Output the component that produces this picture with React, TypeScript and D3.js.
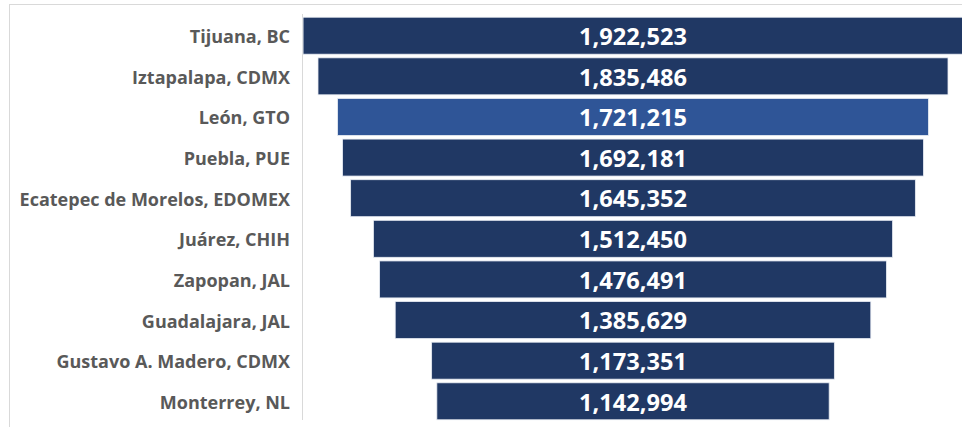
import { useEffect, useRef } from "react";
import { scaleBand, scaleLinear, select, format } from "d3";

const cities = [
  "Tijuana, BC",
  "Iztapalapa, CDMX",
  "León, GTO",
  "Puebla, PUE",
  "Ecatepec de Morelos, EDOMEX",
  "Juárez, CHIH",
  "Zapopan, JAL",
  "Guadalajara, JAL",
  "Gustavo A. Madero, CDMX",
  "Monterrey, NL",
];
const population = [1922523, 1835486, 1721215, 1692181, 1645352, 1512450, 1476491, 1385629, 1173351, 1142994];
const highlight = "León, GTO";

export default function App() {
  const ref = useRef<SVGSVGElement>(null);

  useEffect(() => {
    if (!ref.current) return;
    const svg = select(ref.current);
    svg.selectAll("*").remove();
    const W = 962,
      H = 427;
    const cx = 633;

    // frame + axis line
    svg
      .append("rect")
      .attr("x", 9.5)
      .attr("y", 4.5)
      .attr("width", W)
      .attr("height", H)
      .attr("fill", "#fff")
      .attr("stroke", "#d9d9d9");
    svg
      .append("line")
      .attr("x1", 302.5)
      .attr("x2", 302.5)
      .attr("y1", 14)
      .attr("y2", 420)
      .attr("stroke", "#d9d9d9");

    const y = scaleBand<string>().domain(cities).range([16, 421]).paddingInner(0.09).paddingOuter(0.03);
    const w = scaleLinear().domain([0, 1835486]).range([0, 630]);
    const fmt = format(",");

    const rows = svg
      .selectAll("g.row")
      .data(cities.map((c, i) => ({ c, v: population[i] })))
      .join("g")
      .attr("class", "row");

    rows
      .append("rect")
      .attr("x", (d) => cx - w(d.v) / 2)
      .attr("y", (d) => y(d.c)!)
      .attr("width", (d) => w(d.v))
      .attr("height", y.bandwidth())
      .attr("fill", (d) => (d.c === highlight ? "#2f5597" : "#203864"))
      .attr("stroke", "#e8ecf3")
      .attr("stroke-width", 0.8);

    rows
      .append("text")
      .attr("x", cx)
      .attr("y", (d) => y(d.c)! + y.bandwidth() / 2 + 1)
      .attr("dy", "0.36em")
      .attr("text-anchor", "middle")
      .attr("fill", "#fff")
      .attr("font-family", "'Open Sans', sans-serif")
      .attr("font-weight", 700)
      .attr("font-size", 23)
      .attr("textLength", 108)
      .attr("lengthAdjust", "spacingAndGlyphs")
      .text((d) => fmt(d.v));

    rows
      .append("text")
      .attr("x", 290)
      .attr("y", (d) => y(d.c)! + y.bandwidth() / 2 + 1)
      .attr("dy", "0.36em")
      .attr("text-anchor", "end")
      .attr("fill", "#595959")
      .attr("font-family", "'Open Sans', sans-serif")
      .attr("font-weight", 700)
      .attr("font-size", 18)
      .text((d) => d.c);
  }, []);

  return (
    <svg
      ref={ref}
      width={962}
      height={427}
      style={{ position: "absolute", left: 0, top: 0, overflow: "hidden" }}
    />
  );
}
